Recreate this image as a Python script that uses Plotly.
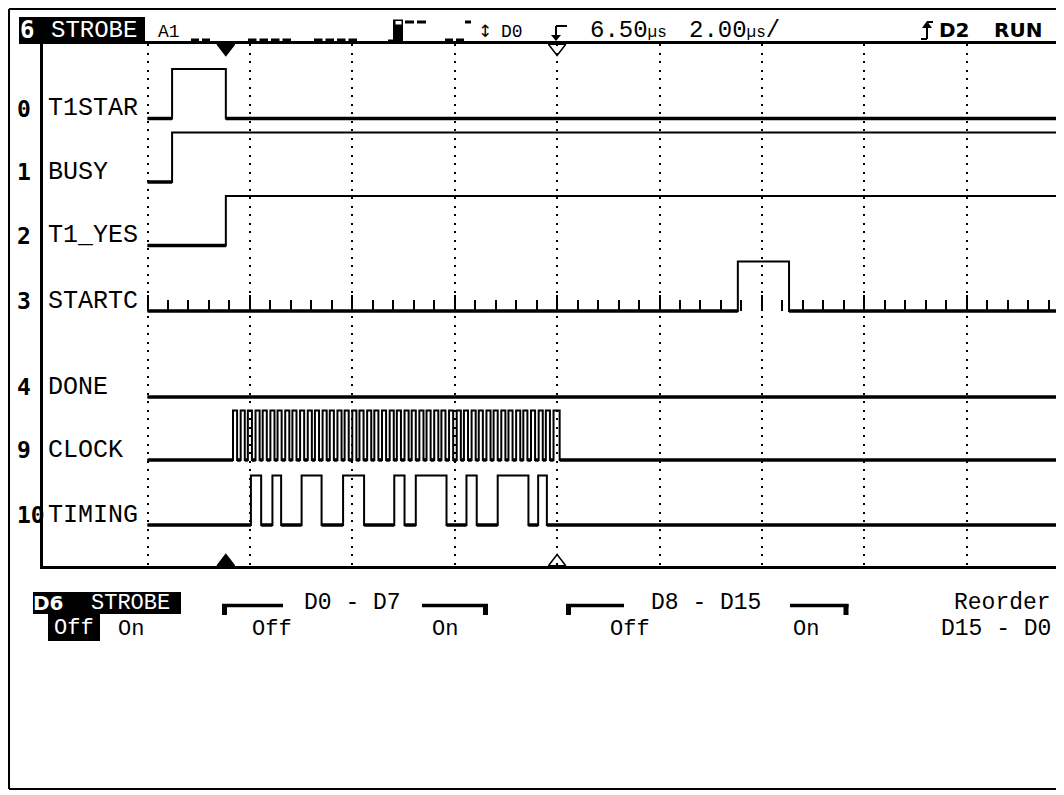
import plotly.graph_objects as go

# ------------------------------------------------------------------ data
CH_NUMBERS = ["0", "1", "2", "3", "4", "9", "10"]
CH_NAMES = ["T1STAR", "BUSY", "T1_YES", "STARTC", "DONE", "CLOCK", "TIMING"]

# transition times in microseconds (0 = first grid division), levels 0/1
T1STAR_T = [0.00, 0.48, 1.53]
T1STAR_V = [0, 1, 0]
BUSY_T = [0.00, 0.48]
BUSY_V = [0, 1]
T1YES_T = [0.00, 1.53]
T1YES_V = [0, 1]
STARTC_T = [0.00, 11.53, 12.53]
STARTC_V = [0, 1, 0]
DONE_T = [0.00]
DONE_V = [0]

CLOCK_RISE_US = [1.67, 1.82, 1.96, 2.11, 2.25, 2.40, 2.54, 2.69, 2.83, 2.98,
                 3.13, 3.27, 3.42, 3.56, 3.71, 3.85, 4.00, 4.14, 4.29, 4.43,
                 4.58, 4.73, 4.87, 5.02, 5.16, 5.31, 5.45, 5.60, 5.74, 5.89,
                 6.04, 6.18, 6.33, 6.47, 6.62, 6.76, 6.91, 7.05, 7.20, 7.34,
                 7.49, 7.64, 7.78, 7.93]
CLOCK_FALL_US = [1.75, 1.90, 2.04, 2.19, 2.33, 2.48, 2.62, 2.77, 2.91, 3.06,
                 3.21, 3.35, 3.50, 3.64, 3.79, 3.93, 4.08, 4.22, 4.37, 4.51,
                 4.66, 4.81, 4.95, 5.10, 5.24, 5.39, 5.53, 5.68, 5.82, 5.97,
                 6.12, 6.26, 6.41, 6.55, 6.70, 6.84, 6.99, 7.13, 7.28, 7.42,
                 7.57, 7.72, 7.86, 8.05]
TIMING_RISE_US = [2.02, 2.44, 3.01, 3.82, 4.82, 5.24, 6.23, 6.84, 7.63]
TIMING_FALL_US = [2.22, 2.61, 3.40, 4.23, 5.02, 5.84, 6.43, 7.44, 7.80]

GRID_US = [0, 2, 4, 6, 8, 10, 12, 14, 16]      # 2.00 us / div
MARKER_US = [1.53, 8.00]                        # filled / hollow markers

# ------------------------------------------------------------------ layout constants
PAGE_MARGIN = 8                   # default body margin of the html page
SW, SH = 1064, 795                # screen size
W, H = SW - PAGE_MARGIN, SH - PAGE_MARGIN
PL, PT, PB = 43, 44, 566          # scope frame (screen px)
PX_PER_US = 51.2
X0_PX = 147.5
X_MIN = (PL - X0_PX) / PX_PER_US
X_MAX = (SW - X0_PX) / PX_PER_US
ROW_LOW = [118.5, 182, 245.5, 311, 397, 460, 525]
AMP = 49.5
MONO = "Liberation Mono"
BOLDF = "DejaVu Sans Mono"


def pxx(x):
    return (x - PL) / (SW - PL)


def pxy(y):
    return (PB - y) / (PB - PT)


def edges_to_steps(rises, falls):
    t, v = [0.0], [0]
    for r, f in zip(rises, falls):
        t += [r, f]
        v += [1, 0]
    return t, v


channels = [
    (T1STAR_T, T1STAR_V), (BUSY_T, BUSY_V), (T1YES_T, T1YES_V),
    (STARTC_T, STARTC_V), (DONE_T, DONE_V),
    edges_to_steps(CLOCK_RISE_US, CLOCK_FALL_US),
    edges_to_steps(TIMING_RISE_US, TIMING_FALL_US),
]

fig = go.Figure()
for (t, v), low in zip(channels, ROW_LOW):
    xs = list(t) + [X_MAX]
    ys = [low - AMP * val for val in v] + [low - AMP * v[-1]]
    fig.add_trace(go.Scatter(x=xs, y=ys, mode="lines", line_shape="hv",
                             line=dict(color="black", width=2),
                             hoverinfo="skip", showlegend=False))
    # low level is drawn heavier on the scope
    lx, ly = [], []
    for i, val in enumerate(v):
        if val == 0:
            t_end = t[i + 1] if i + 1 < len(t) else X_MAX
            lx += [t[i], t_end, None]
            ly += [low, low, None]
    fig.add_trace(go.Scatter(x=lx, y=ly, mode="lines",
                             line=dict(color="black", width=3.5),
                             hoverinfo="skip", showlegend=False))

# invisible trace to host the STARTC tick ruler axis
fig.add_trace(go.Scatter(x=[0], y=[ROW_LOW[3]], xaxis="x2", yaxis="y",
                         mode="markers", marker=dict(opacity=0),
                         hoverinfo="skip", showlegend=False))

# position markers (top and bottom of the frame)
fig.add_trace(go.Scatter(x=MARKER_US, y=[PT + 4, PT + 4], mode="markers",
                         marker=dict(symbol=["triangle-down", "triangle-down-open"],
                                     size=15, color="black",
                                     line=dict(color="black", width=1.5)),
                         cliponaxis=False, hoverinfo="skip", showlegend=False))
fig.add_trace(go.Scatter(x=MARKER_US, y=[PB - 4, PB - 4], mode="markers",
                         marker=dict(symbol=["triangle-up", "triangle-up-open"],
                                     size=15, color="black",
                                     line=dict(color="black", width=1.5)),
                         cliponaxis=False, hoverinfo="skip", showlegend=False))

ann = []


def txt(s, x, y, size=22, color="black", bold=False, xanchor="left", family=MONO):
    ann.append(dict(text=s, x=pxx(x), y=pxy(y), xref="paper", yref="paper",
                    xanchor=xanchor, yanchor="middle", showarrow=False,
                    font=dict(family=family, size=size, color=color,
                              weight="bold" if bold else "normal")))


shapes = []


def line(x0, y0, x1, y1, w=2, dash="solid"):
    shapes.append(dict(type="line", xref="paper", yref="paper",
                       x0=pxx(x0), y0=pxy(y0), x1=pxx(x1), y1=pxy(y1),
                       line=dict(color="black", width=w, dash=dash)))


def rect(x0, y0, x1, y1, fill="black"):
    shapes.append(dict(type="rect", xref="paper", yref="paper",
                       x0=pxx(x0), y0=pxy(y0), x1=pxx(x1), y1=pxy(y1),
                       fillcolor=fill, line=dict(width=0)))


# outer frame
line(9, 9, 9, 789)
line(9, 9, SW, 9)
line(9, 789, SW, 789)

# channel labels
for num, name, low in zip(CH_NUMBERS, CH_NAMES, ROW_LOW):
    txt(num, 15, low - 10, size=23, bold=True, family=BOLDF)
    txt(name, 46, low - 10, size=25)

# ---- header
rect(19, 17, 145, 44)
txt("6", 18, 30.5, size=24, color="white", bold=True, family=BOLDF)
txt("STROBE", 93.5, 30.5, size=24, color="white", xanchor="center")
txt("A1", 169, 32, size=18, xanchor="center")
line(191, 40, 210.5, 40, w=3, dash="8px,3px")
line(248, 40, 293.5, 40, w=3, dash="8.5px,3px")
line(314, 40, 359.5, 40, w=3, dash="8.5px,3px")
line(388, 41, 394, 41, w=3)
rect(393, 19.5, 403, 43)
rect(395.5, 21, 401.5, 24.5, fill="white")
line(405, 22, 428, 22, w=3, dash="9px,3px")
line(445, 40, 464.5, 40, w=3, dash="8px,3px")
line(465, 22, 471, 22, w=3)
txt("↕", 485, 31, size=17, xanchor="center", family="DejaVu Sans")
txt("D0", 512, 32, size=18, xanchor="center")
# trigger slope icon (falling)
line(567, 26, 556, 26, w=2)
line(556, 26, 556, 36, w=2)
shapes.append(dict(type="path", xref="paper", yref="paper",
                   path=f"M {pxx(551)} {pxy(35)} L {pxx(561)} {pxy(35)} L {pxx(556)} {pxy(41)} Z",
                   fillcolor="black", line=dict(width=0)))
txt("6.50<span style='font-size:16px'>µs</span>", 588, 30, size=24)
txt("2.00<span style='font-size:16px'>µs</span>/", 687, 30, size=24)
# trigger source icon (rising)
line(921, 39, 927, 39, w=2)
line(927, 39, 927, 27, w=2)
line(927, 22, 933, 22, w=2)
shapes.append(dict(type="path", xref="paper", yref="paper",
                   path=f"M {pxx(922)} {pxy(28)} L {pxx(932)} {pxy(28)} L {pxx(927)} {pxy(21)} Z",
                   fillcolor="black", line=dict(width=0)))
txt("D2", 954, 30, size=20, bold=True, xanchor="center", family="DejaVu Sans")
txt("RUN", 1018, 30, size=20, bold=True, xanchor="center", family="DejaVu Sans")

# ---- bottom menu
rect(33, 592, 181, 614)
rect(48, 613.5, 100, 641)
txt("D6", 48, 603, size=20, color="white", bold=True, xanchor="center", family="DejaVu Sans")
txt("STROBE", 130.5, 603, size=22, color="white", xanchor="center")
txt("Off", 74, 628.5, size=22, color="white", xanchor="center")
txt("On", 131, 629, size=22, xanchor="center")

for (l0, l1, r0, r1) in [(222, 283, 422, 488), (566, 624, 790, 848.5)]:
    line(l0, 605.5, l1, 605.5, w=3.5)
    rect(l0, 604, l0 + 5, 615)
    line(r0, 605.5, r1, 605.5, w=3.5)
    rect(r1 - 5, 604, r1, 615)
txt("D0 - D7", 352.5, 603, size=23, xanchor="center")
txt("Off", 272, 629.5, size=22, xanchor="center")
txt("On", 444.5, 629.5, size=22, xanchor="center")
txt("D8 - D15", 706, 603, size=23, xanchor="center")
txt("Off", 630, 629.5, size=22, xanchor="center")
txt("On", 806, 629.5, size=22, xanchor="center")
txt("Reorder", 1053, 603, size=23, xanchor="right")
txt("D15 - D0", 1053, 629, size=23, xanchor="right")

fig.update_layout(
    width=W, height=H,
    margin=dict(l=PL - PAGE_MARGIN, r=0, t=PT - PAGE_MARGIN, b=SH - PB),
    paper_bgcolor="white", plot_bgcolor="rgba(0,0,0,0)",
    showlegend=False, hovermode=False,
    annotations=ann, shapes=shapes,
    xaxis=dict(range=[X_MIN, X_MAX], tickmode="array", tickvals=GRID_US,
               showticklabels=False, ticks="", showgrid=True,
               gridcolor="black", gridwidth=2, griddash="2px,6.5px",
               zeroline=False, showline=True, mirror=True,
               linecolor="black", linewidth=2.5, fixedrange=True),
    xaxis2=dict(domain=[pxx(X0_PX), 1], range=[0, X_MAX], anchor="free",
                position=pxy(ROW_LOW[3]), side="top",
                tickmode="linear", tick0=0, dtick=2, ticks="outside",
                ticklen=16, tickwidth=2, tickcolor="black",
                minor=dict(ticks="outside", tick0=0, dtick=0.4, ticklen=11,
                           tickwidth=2, tickcolor="black", showgrid=False),
                showticklabels=False, showgrid=False, zeroline=False,
                showline=False, fixedrange=True),
    yaxis=dict(range=[PB, PT], showticklabels=False, ticks="", showgrid=False,
               zeroline=False, showline=True, mirror=False,
               linecolor="black", linewidth=2.5, fixedrange=True),
)

fig.write_html("out.html")
